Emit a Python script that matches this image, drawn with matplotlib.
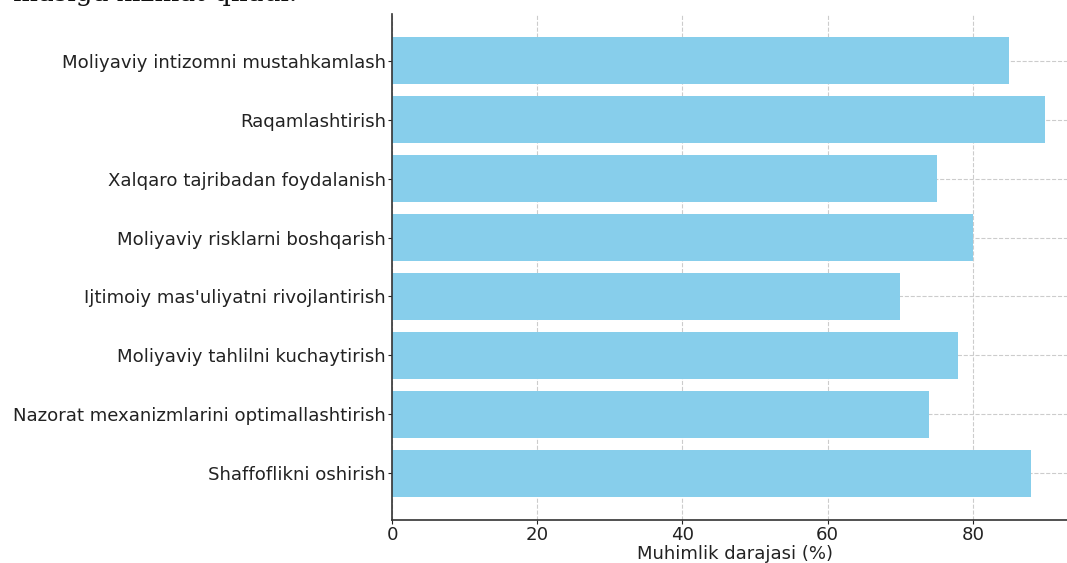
import matplotlib
matplotlib.use("Agg")
import matplotlib.pyplot as plt

categories = [
    "Moliyaviy intizomni mustahkamlash",
    "Raqamlashtirish",
    "Xalqaro tajribadan foydalanish",
    "Moliyaviy risklarni boshqarish",
    "Ijtimoiy mas'uliyatni rivojlantirish",
    "Moliyaviy tahlilni kuchaytirish",
    "Nazorat mexanizmlarini optimallashtirish",
    "Shaffoflikni oshirish",
]
values = [85, 90, 75, 80, 70, 78, 74, 88]
xticks = [0, 20, 40, 60, 80]
xlabel = "Muhimlik darajasi (%)"
header_text = "masiga xizmat qiladi."

W, H = 1067, 563
fig = plt.figure(figsize=(W / 100, H / 100), dpi=100)
left = 392 / W
bottom = 1 - 520 / H
top = 1 - 14 / H
right = (392 + 94.5 * 7.26) / W
ax = fig.add_axes([left, bottom, right - left, top - bottom])

ypos = list(range(len(categories)))[::-1]
ax.barh(ypos, values, height=0.8, color="#87CEEB", zorder=2)
ax.set_yticks(ypos)
ax.set_yticklabels(categories, fontsize=13.1)
ax.set_xlim(0, 94.5)
ax.set_ylim(-0.79, 7.79)
ax.set_xticks(xticks)
ax.set_xlabel(xlabel, fontsize=13, color="#222222", labelpad=0.5)
ax.tick_params(axis="both", labelsize=13.1, colors="#222222", length=3, pad=1.5)
ax.tick_params(axis="y", pad=1.5)
ax.grid(True, linestyle="--", color="#cccccc", linewidth=0.8, zorder=0)
for s in ["top", "right"]:
    ax.spines[s].set_visible(False)
for s in ["left", "bottom"]:
    ax.spines[s].set_color("#333333")
    ax.spines[s].set_linewidth(1.2)

fig.text(0.012, 1.011, header_text, fontsize=19, family="DejaVu Serif",
         color="#111111", va="center", ha="left")

fig.savefig("out.png", dpi=100)
